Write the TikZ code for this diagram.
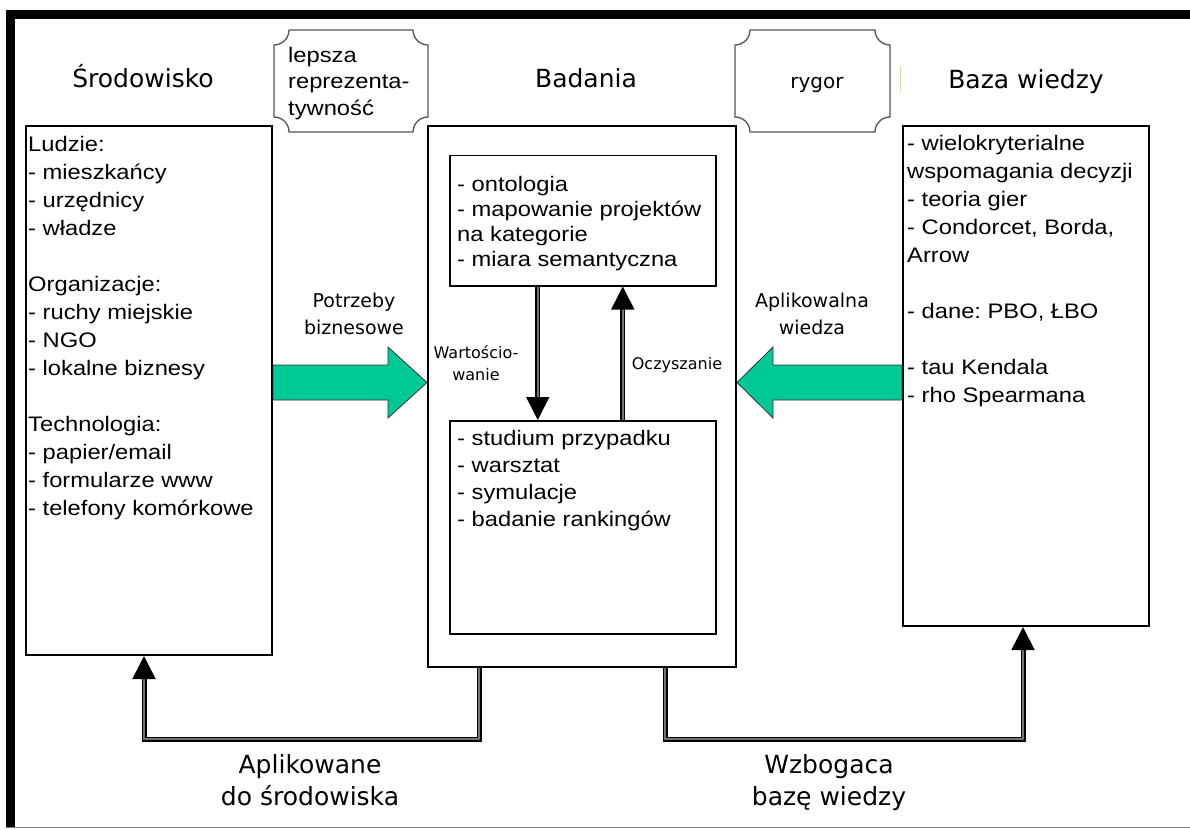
\documentclass[tikz,border=0pt]{standalone}
\usepackage{fontspec}
\setmainfont{Liberation Sans}[FakeStretch=1.13]
\newfontfamily\titlefont{DejaVu Sans}
\usetikzlibrary{arrows.meta}
\frenchspacing
\definecolor{flowgreen}{RGB}{0,200,150}
\definecolor{plaqueline}{RGB}{85,85,85}
\definecolor{tanmark}{RGB}{232,212,170}
\newcommand\fsz[2]{\fontsize{#1}{#2}\selectfont}
% plaque outline with concave corners: x0 y0 x1 y1 r
\newcommand\plaqueoutline[5]{%
  \draw[plaqueline, line width=1.3pt]
    (#1+#5,#2) -- (#3-#5,#2) arc[start angle=180,end angle=90,radius=#5]
    -- (#3,#4-#5) arc[start angle=270,end angle=180,radius=#5]
    -- (#1+#5,#4) arc[start angle=0,end angle=-90,radius=#5]
    -- (#1,#2+#5) arc[start angle=90,end angle=0,radius=#5] -- cycle;}

\begin{document}
\begin{tikzpicture}[x=1pt,y=-1pt,
  panel/.style={draw=black, line width=2pt, inner sep=0pt, anchor=north west},
  listtext/.style={anchor=north west, inner sep=0pt, align=left},
  heading/.style={anchor=base, inner sep=0pt, font=\titlefont\fsz{25}{32}},
  flowlabel/.style={anchor=north, inner sep=0pt, align=center},
  conn/.style={draw=black, line width=1.6pt, double=black!55, double distance=1.8pt,
    -{Triangle[length=23pt,width=23pt]}},
  greenarrow/.style={fill=flowgreen, draw=black!80, line width=0.8pt, line join=miter}
]
\useasboundingbox (0,0) rectangle (1190,829);

% frame
\fill[black] (6,10) rectangle (1190,19);
\fill[black] (6,10) rectangle (15,828);
\draw[gray, line width=1.5pt] (6,827.5) -- (1190,827.5);

% headings
\node[heading] (hEnv) at (143,88) {Środowisko};
\node[heading] (hRes) at (586,88) {Badania};
\node[heading] (hKb) at (1026,89) {Baza wiedzy};

% panels
\node[panel, minimum width=246, minimum height=529] (env) at (25,125) {};
\node[panel, minimum width=308, minimum height=541] (res) at (427,125) {};
\node[panel, minimum width=246, minimum height=500] (kb) at (902,125) {};
\node[panel, line width=1.5pt, minimum width=266, minimum height=130] (restop) at (449,155) {};
\node[panel, line width=1.5pt, minimum width=266, minimum height=213] (resbot) at (449,420) {};

% panel contents
\node[listtext, font=\fsz{21}{28}] (envtext) at (28,131.4) {\strut Ludzie:\\
- mieszkańcy\\ - urzędnicy\\ - władze\\[28pt]
Organizacje:\\ - ruchy miejskie\\ - NGO\\ - lokalne biznesy\\[28pt]
Technologia:\\ - papier/email\\ - formularze www\\ - telefony komórkowe};

\node[listtext, font=\fsz{21}{25}] (toptext) at (457,173.5) {\strut - ontologia\\
- mapowanie projektów\\ na kategorie\\ - miara semantyczna};

\node[listtext, font=\fsz{21}{27}] (bottext) at (457,426.1) {\strut - studium przypadku\\
- warsztat\\ - symulacje\\ - badanie rankingów};

\node[listtext, font=\fsz{21}{28}] (kbtext) at (907,130.4) {\strut - wielokryterialne\\
wspomagania decyzji\\ - teoria gier\\ - Condorcet, Borda,\\ Arrow\\[28pt]
- dane: PBO, ŁBO\\[28pt] - tau Kendala\\ - rho Spearmana};

% plaques
\plaqueoutline{274}{30}{428}{132}{15}
\node[listtext, font=\fsz{21}{26.5}] (plaqA) at (288,43.4) {\strut lepsza\\ reprezenta-\\ tywność};
\plaqueoutline{735}{30}{890}{132}{15}
\node[anchor=base, inner sep=0pt, font=\titlefont\fsz{20}{26}] (plaqB) at (817,89) {rygor};
\draw[tanmark, line width=1pt] (900.7,66) -- (900.7,92);

% inflow arrows
\draw[greenarrow] (env.east |- 0,365) -- (388,365) -- (388,347) -- (res.west |- 0,382.5)
  -- (388,418) -- (388,400) -- (env.east |- 0,400) -- cycle;
\draw[greenarrow] (kb.west |- 0,365) -- (773,365) -- (773,347) -- (res.east |- 0,382.5)
  -- (773,418) -- (773,400) -- (kb.west |- 0,400) -- cycle;
\node[flowlabel, font=\titlefont\fsz{19}{27}] (lNeed) at (354,288.1) {\strut Potrzeby\\ biznesowe};
\node[flowlabel, font=\titlefont\fsz{19}{27}] (lKnow) at (812,288.1) {\strut Aplikowalna\\ wiedza};

% inner cycle
\draw[conn] ([xshift=-45pt]restop.south) -- ([xshift=-45pt]resbot.north);
\draw[conn] ([xshift=40pt]resbot.north) -- ([xshift=40pt]restop.south);
\node[flowlabel, font=\titlefont\fsz{16}{22}] (lVal) at (476,342.6) {\strut Wartościo-\\ wanie};
\node[anchor=base, inner sep=0pt, font=\titlefont\fsz{16}{22}] (lClean) at (677,369) {Oczyszanie};

% outflow connectors
\draw[conn] ([xshift=-103pt]res.south) -- ++(0,71) -| ([xshift=-5pt]env.south);
\draw[conn] ([xshift=83pt]res.south) -- ++(0,71) -| ([xshift=-3pt]kb.south);
\node[flowlabel, font=\titlefont\fsz{25}{32}] (lApp) at (310,750.6) {\strut Aplikowane\\ do środowiska};
\node[flowlabel, font=\titlefont\fsz{25}{32}] (lEnr) at (829,750.6) {\strut Wzbogaca\\ bazę wiedzy};
\end{tikzpicture}
\end{document}
